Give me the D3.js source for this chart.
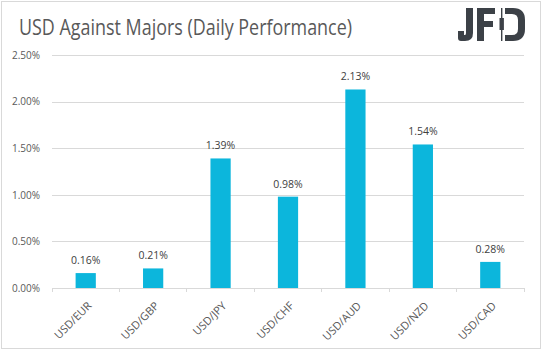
<!DOCTYPE html>
<html>
<head>
<meta charset="utf-8">
<script src="https://cdn.jsdelivr.net/npm/d3@7"></script>
<style>
  body { margin: 0; background: #fff; }
  svg { display: block; font-family: "Open Sans", sans-serif; }
</style>
</head>
<body>
<svg width="543" height="352"></svg>
<script>
// chart data
const pairs = ["USD/EUR", "USD/GBP", "USD/JPY", "USD/CHF", "USD/AUD", "USD/NZD", "USD/CAD"];
const changes = [0.16, 0.21, 1.39, 0.98, 2.13, 1.54, 0.28];
const yTicks = [0, 0.5, 1.0, 1.5, 2.0, 2.5];

const svg = d3.select("svg"),
    width = 543,
    height = 352;

const margin = {top: 55, right: 19, bottom: 64, left: 52};

// outer frame
svg.append("rect")
    .attr("x", 1.5)
    .attr("y", 1.5)
    .attr("width", 539)
    .attr("height", 347)
    .attr("fill", "white")
    .attr("stroke", "#d9d9d9");

svg.append("text")
    .attr("x", 19)
    .attr("y", 35)
    .attr("font-size", 21)
    .attr("fill", "#595959")
    .attr("textLength", 333)
    .attr("lengthAdjust", "spacingAndGlyphs")
    .text("USD Against Majors (Daily Performance)");

// JFD logo
const logo = svg.append("g").attr("fill", "#3c4147");
logo.append("path").attr("d", "M466,8 H473 V33 Q473,41 465,41 H461 Q458,41 458,38 V31 H464 V35 H465 Q466,35 466,33 Z");
logo.append("path").attr("d", "M477,8 H495 V14 H484 V21 H493 V27 H484 V41 H477 Z");
logo.append("rect").attr("x", 501).attr("y", 8).attr("width", 1.4).attr("height", 33);
logo.append("rect").attr("x", 499.5).attr("y", 18).attr("width", 4.4).attr("height", 12);
logo.append("path").attr("d", "M505,8 H513 Q525,8 525,20 V29 Q525,41 513,41 H505 V35 H512 Q518,35 518,29 V20 Q518,14 512,14 H505 Z");

const x = d3.scaleBand()
    .domain(pairs)
    .range([margin.left, width - margin.right])
    .paddingInner(0.7)
    .paddingOuter(0.35);

const y = d3.scaleLinear()
    .domain([0, 2.5])
    .range([height - margin.bottom, margin.top]);

// gridlines + y labels
const yAxis = svg.append("g")
    .attr("transform", `translate(${margin.left},0)`)
    .call(d3.axisLeft(y).tickValues(yTicks).tickSize(-(width - margin.left - margin.right)).tickFormat(d => d.toFixed(2) + "%"));
yAxis.select(".domain").remove();
yAxis.selectAll(".tick line")
    .attr("stroke", "#d9d9d9")
    .attr("shape-rendering", "crispEdges");
yAxis.selectAll(".tick text")
    .attr("x", -12)
    .attr("fill", "#595959")
    .attr("font-size", 10)
    .attr("font-family", "Open Sans");

// x axis with ticks between categories
const x0 = y(0);
const xAxis = svg.append("g");
xAxis.append("line")
    .attr("x1", margin.left)
    .attr("x2", width - margin.right)
    .attr("y1", x0)
    .attr("y2", x0)
    .attr("stroke", "#d9d9d9")
    .attr("shape-rendering", "crispEdges");

const bounds = d3.range(pairs.length + 1).map(i => margin.left + i * (width - margin.left - margin.right) / pairs.length);
xAxis.selectAll(".sep")
    .data(bounds)
    .enter()
    .append("line")
    .attr("x1", d => d)
    .attr("x2", d => d)
    .attr("y1", x0)
    .attr("y2", x0 + 4)
    .attr("stroke", "#d9d9d9")
    .attr("shape-rendering", "crispEdges");

xAxis.selectAll(".lbl")
    .data(pairs)
    .enter()
    .append("text")
    .attr("transform", d => `translate(${x(d) + x.bandwidth() / 2 + 1},${x0 + 13}) rotate(-45)`)
    .attr("text-anchor", "end")
    .attr("dy", "0.71em")
    .attr("font-size", 11)
    .attr("fill", "#595959")
    .text(d => d);

// bars
const bars = pairs.map((p, i) => ({pair: p, value: changes[i]}));

svg.append("g")
    .selectAll("rect")
    .data(bars)
    .enter()
    .append("rect")
    .attr("x", d => x(d.pair))
    .attr("y", d => y(d.value))
    .attr("width", x.bandwidth())
    .attr("height", d => y(0) - y(d.value))
    .attr("fill", "#0cb6dc");

svg.append("g")
    .selectAll("text")
    .data(bars)
    .enter()
    .append("text")
    .attr("x", d => x(d.pair) + x.bandwidth() / 2)
    .attr("y", d => y(d.value) - 9)
    .attr("text-anchor", "middle")
    .attr("font-size", 10.5)
    .attr("fill", "#404040")
    .text(d => d.value.toFixed(2) + "%");
</script>
</body>
</html>
